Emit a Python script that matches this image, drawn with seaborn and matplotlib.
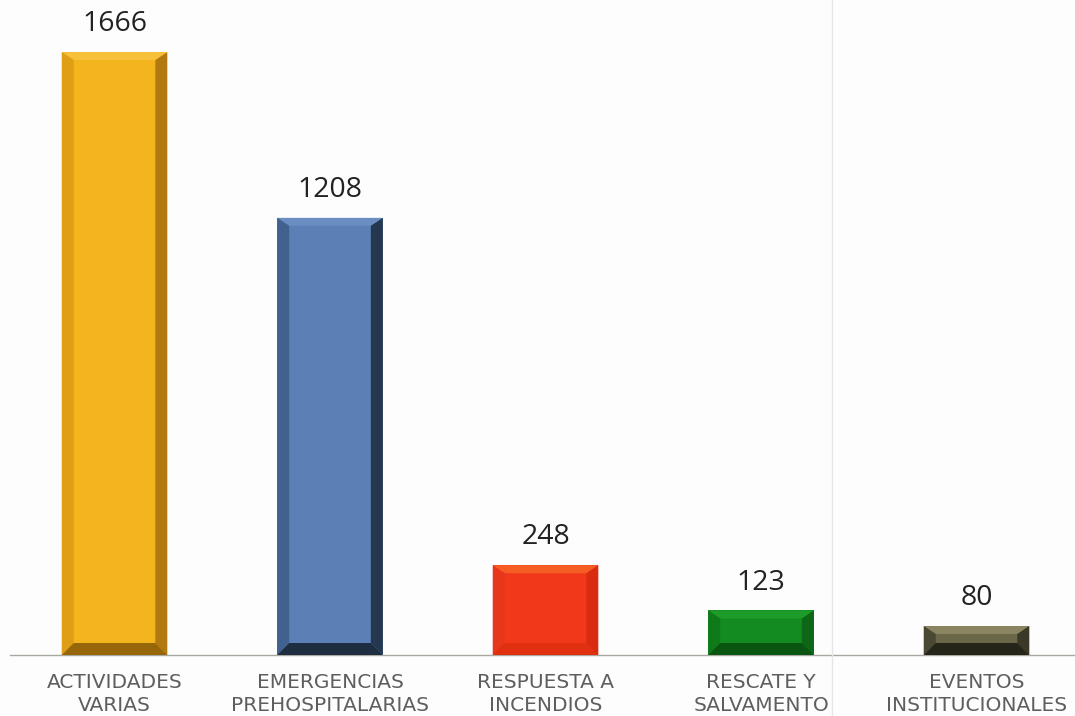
import numpy as np
import pandas as pd
import matplotlib.pyplot as plt
from matplotlib.patches import Polygon
from matplotlib.lines import Line2D
import seaborn as sns

# Chart values
categories = ["ACTIVIDADES\nVARIAS", "EMERGENCIAS\nPREHOSPITALARIAS", "RESPUESTA A\nINCENDIOS",
              "RESCATE Y\nSALVAMENTO", "EVENTOS\nINSTITUCIONALES"]
values = [1666, 1208, 248, 123, 80]

# face colour, then bevel shades: top, left, right, bottom
face_colors = ["#F4B41E", "#5B80B6", "#F2381B", "#148B20", "#6A6648"]
top_colors = ["#F7C03A", "#6A8EC2", "#F55D24", "#1E9C2A", "#8A8460"]
left_colors = ["#DE9E15", "#41618F", "#E8361A", "#0F7A1A", "#4A4733"]
right_colors = ["#B07A10", "#25384F", "#D92B10", "#0D6716", "#3A3826"]
bottom_colors = ["#976609", "#1E2D40", "#E0300F", "#0A5512", "#25251A"]

df = pd.DataFrame({"categoria": categories, "total": values})

sns.set_style("white")
plt.rcParams["font.family"] = ["Open Sans", "DejaVu Sans"]

fig = plt.figure(figsize=(10.75, 7.16), dpi=100)
fig.patch.set_facecolor("#FDFDFD")
ax = fig.add_axes([10 / 1075, 61 / 716, 1065 / 1075, 655 / 716])
ax.set_facecolor("#FDFDFD")

sns.barplot(data=df, x="categoria", y="total", hue="categoria", palette=face_colors,
            width=0.49, legend=False, saturation=1, ax=ax)

ax.set_xlim(-0.485, 4.457)
ax.set_ylim(0, 1810)

# bevel sizes in pixels -> data units
px_x = (4.457 + 0.485) / 1065
px_y = 1810 / 655
bx = 12 * px_x
bt = 8 * px_y
bb = 12 * px_y

for i, p in enumerate(ax.patches):
    x, y, w, h = p.get_x(), p.get_y(), p.get_width(), p.get_height()
    p.set_edgecolor("none")
    polys = [
        ([(x, y + h), (x + w, y + h), (x + w - bx, y + h - bt), (x + bx, y + h - bt)], top_colors[i]),
        ([(x, y), (x + bx, y + bb), (x + bx, y + h - bt), (x, y + h)], left_colors[i]),
        ([(x + w, y), (x + w - bx, y + bb), (x + w - bx, y + h - bt), (x + w, y + h)], right_colors[i]),
        ([(x, y), (x + w, y), (x + w - bx, y + bb), (x + bx, y + bb)], bottom_colors[i]),
    ]
    for pts, c in polys:
        ax.add_patch(Polygon(pts, closed=True, facecolor=c, edgecolor="none", zorder=3))
    ax.annotate(f"{values[i]}", (x + w / 2, y + h), xytext=(0, 10), textcoords="offset points",
                ha="center", va="bottom", fontsize=20.5, color="#222222")

sns.despine(ax=ax, left=True, top=True, right=True)
ax.spines["bottom"].set_color("#A8A8A0")
ax.spines["bottom"].set_linewidth(1.0)
ax.set_yticks([])
ax.set_xlabel("")
ax.set_ylabel("")
ax.tick_params(axis="x", length=0, pad=13)
for lbl in ax.get_xticklabels():
    lbl.set_fontfamily("DejaVu Sans")
    lbl.set_fontsize(14.5)
    lbl.set_color("#5E5E5E")
    lbl.set_linespacing(1.28)

# faint fold line of the scanned page
fig.add_artist(Line2D([832 / 1075, 832 / 1075], [0, 1], color="#E6E6E6", linewidth=1.0))

fig.savefig("out.png", dpi=100, facecolor=fig.get_facecolor())
